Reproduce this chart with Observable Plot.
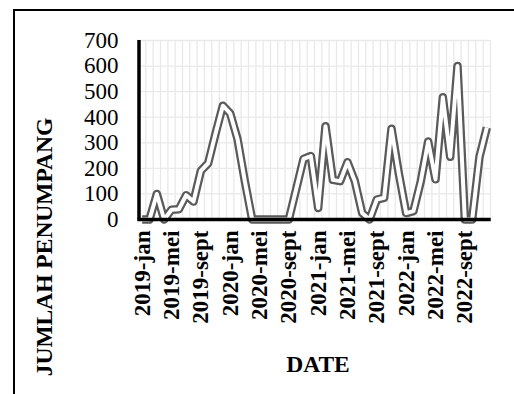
<!DOCTYPE html>
<html>
<head>
<meta charset="utf-8">
<script src="https://cdn.jsdelivr.net/npm/d3@7"></script>
<script src="https://cdn.jsdelivr.net/npm/@observablehq/plot@0.6"></script>
<style>
  html, body { margin: 0; padding: 0; background: #fff; }
  #wrap { position: relative; width: 514px; height: 394px; overflow: hidden; background: #fff; }
  #frame { position: absolute; left: 13px; top: 9px; width: 620px; height: 520px; border: 2px solid #000; box-sizing: border-box; pointer-events: none; }
  #chart { position: absolute; left: 0; top: 0; }
  .title { position: absolute; font-family: "Liberation Serif", "Times New Roman", serif; font-weight: bold; font-size: 23.5px; line-height: 24px; white-space: nowrap; color: #000; }
  #xtitle { left: 318px; top: 352px; transform: translateX(-50%); }
  #ytitle { left: 44px; top: 247px; transform: translate(-50%, -50%) rotate(-90deg); }
  #chart svg, #chart svg text { font-family: "Liberation Serif", "Times New Roman", serif !important; }
  #chart svg text { font-size: 23px !important; }
  #chart svg text.xtick { font-weight: bold !important; }
</style>
</head>
<body>
<div id="wrap">
  <div id="chart"></div>
  <div id="frame"></div>
  <div class="title" id="xtitle">DATE</div>
  <div class="title" id="ytitle">JUMLAH PENUMPANG</div>
</div>
<script>
// Month categories (Indonesian month abbreviations)
const monthNames = ["jan", "feb", "mar", "apr", "mei", "jun", "jul", "agu", "sept", "okt", "nov", "des"];
const years = [2019, 2020, 2021, 2022];
const months = years.flatMap(y => monthNames.map(m => `${y}-${m}`));

// Passenger counts per month
const passengers = [
  0, 0, 100, 0, 38, 40, 95, 70, 190, 220, 335, 445,
  415, 315, 150, 0, 0, 0, 0, 0, 0, 118, 237, 248,
  45, 365, 155, 150, 224, 150, 25, 0, 78, 85, 355, 180,
  25, 33, 150, 305, 157, 478, 245, 600, 0, 0, 245, 360
];

// Axis tick labels
const xTickLabels = ["2019-jan", "2019-mei", "2019-sept", "2020-jan", "2020-mei", "2020-sept",
                     "2021-jan", "2021-mei", "2021-sept", "2022-jan", "2022-mei", "2022-sept"];
const yTicks = [0, 100, 200, 300, 400, 500, 600, 700];

const data = months.map((m, i) => ({ i, month: m, value: passengers[i] }));
const xTickIdx = xTickLabels.map(l => months.indexOf(l));
const boundaries = d3.range(months.length + 1).map(k => k - 0.5);

const chart = Plot.plot({
  width: 514,
  height: 394,
  marginLeft: 138,
  marginRight: 24,
  marginTop: 40,
  marginBottom: 175,
  style: { fontSize: "23px", background: "transparent", color: "#000" },
  x: {
    domain: [-0.5, months.length - 0.5],
    ticks: xTickIdx,
    tickFormat: i => months[i],
    tickRotate: -90,
    tickSize: 0,
    tickPadding: 11,
    label: null
  },
  y: {
    domain: [0, 700],
    ticks: yTicks,
    tickSize: 0,
    tickPadding: 20,
    label: null
  },
  marks: [
    Plot.ruleX(boundaries, { x: d => d, y1: 0, y2: 700, stroke: "#e9e9e9", strokeWidth: 1.3 }),
    Plot.ruleY(yTicks, { y: d => d, stroke: "#e9e9e9", strokeWidth: 1.3 }),
    Plot.line(data, { x: "i", y: "value", stroke: "#5a5a5a", strokeWidth: 8.5, strokeLinejoin: "round", strokeLinecap: "butt" }),
    Plot.line(data, { x: "i", y: "value", stroke: "#ffffff", strokeWidth: 4, strokeLinejoin: "round", strokeLinecap: "butt" }),
    Plot.ruleX([-0.5], { x: d => d, y1: 0, y2: 700, stroke: "#000", strokeWidth: 3.5, dx: 0.5 }),
    Plot.ruleY([0], { y: d => d, stroke: "#000", strokeWidth: 3.5, x1: -0.6, x2: months.length - 0.4 })
  ]
});
document.getElementById("chart").appendChild(chart);
// bold x tick labels (rotated)
d3.select(chart).selectAll("text").filter(function () { return /^\d{4}-/.test(this.textContent); }).classed("xtick", true).attr("font-weight", "bold");
</script>
</body>
</html>
